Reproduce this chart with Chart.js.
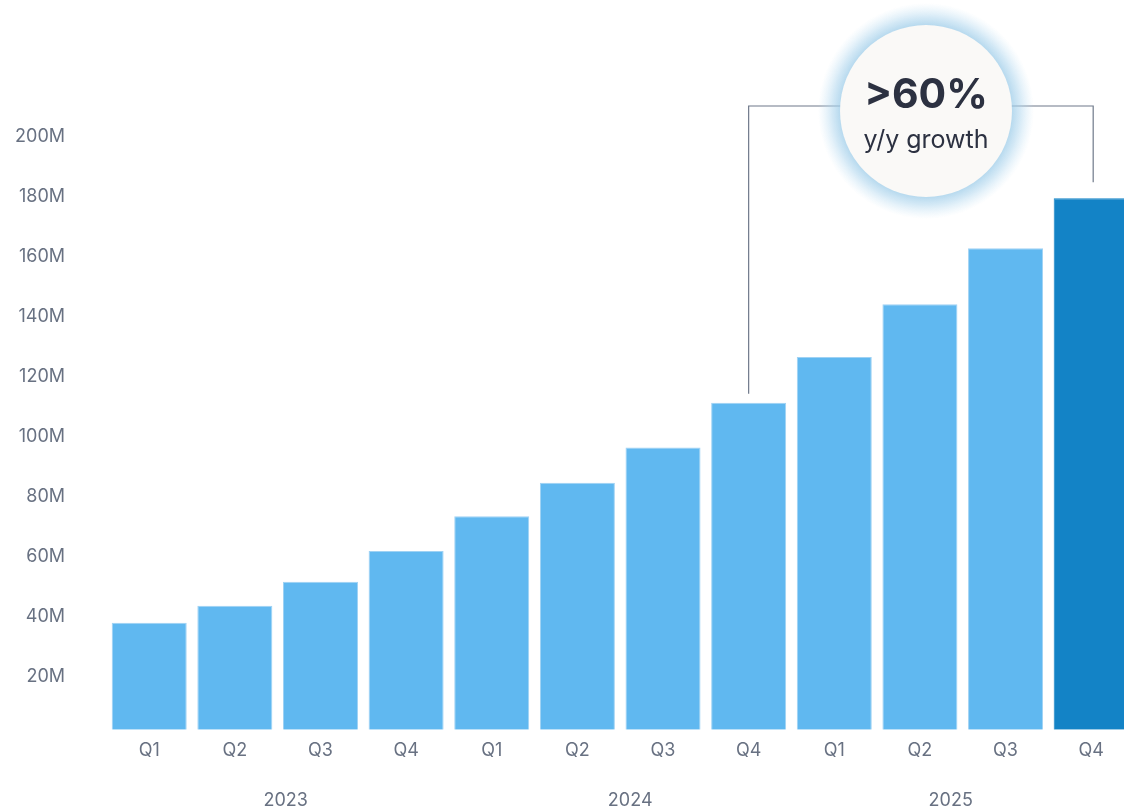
<!DOCTYPE html>
<html>
<head>
<meta charset="utf-8">
<script src="https://cdn.jsdelivr.net/npm/chart.js@4.4.1/dist/chart.umd.min.js"></script>
<style>
  html, body { margin: 0; padding: 0; background: #ffffff; overflow: hidden; }
  canvas { display: block; }
</style>
</head>
<body>
<canvas id="growthChart" width="1134" height="811"></canvas>
<script>
// Données
const quarters = ['Q1', 'Q2', 'Q3', 'Q4', 'Q1', 'Q2', 'Q3', 'Q4', 'Q1', 'Q2', 'Q3', 'Q4'];
const years = ['2023', '2024', '2025'];
const values = [35.7, 41.3, 49.3, 59.6, 71.2, 82.3, 94.1, 109.0, 124.3, 141.9, 160.5, 177.2];
const yTicks = [20, 40, 60, 80, 100, 120, 140, 160, 180, 200];
const badgeMain = '>60%';
const badgeSub = 'y/y growth';

const lightBlue = '#60b8f0';
const darkBlue = '#1383c6';
const labelGrey = '#687182';
const fontFamily = "Inter, 'Open Sans', sans-serif";

// Décalage des années (pas tout à fait centrées dans le visuel d'origine)
const yearShift = [8, 10, -12];

// Années sous les trimestres + crochet + badge de croissance
const growthBadge = {
    id: 'growthBadge',
    afterDatasetsDraw(chart) {
        const ctx = chart.ctx;
        const meta = chart.getDatasetMeta(0);
        const xScale = chart.scales.x;
        const from = meta.data[7];
        const to = meta.data[11];
        const lineY = 106;
        const cx = 926, cy = 111, r = 86;

        ctx.save();
        ctx.fillStyle = labelGrey;
        ctx.font = "18px " + fontFamily;
        ctx.textAlign = 'center';
        ctx.textBaseline = 'middle';
        years.forEach((y, i) => {
            const x0 = xScale.getPixelForValue(i * 4);
            const x1 = xScale.getPixelForValue(i * 4 + 3);
            ctx.fillText(y, (x0 + x1) / 2 + yearShift[i], 801);
        });

        ctx.strokeStyle = '#6f798a';
        ctx.lineWidth = 1.2;
        ctx.beginPath();
        ctx.moveTo(from.x, from.y - 9);
        ctx.lineTo(from.x, lineY);
        ctx.lineTo(to.x + 2, lineY);
        ctx.lineTo(to.x + 2, to.y - 16);
        ctx.stroke();

        // halo bleu
        const glow = ctx.createRadialGradient(cx, cy, r - 4, cx, cy, r + 22);
        glow.addColorStop(0, 'rgba(150, 200, 230, 0.85)');
        glow.addColorStop(0.45, 'rgba(175, 214, 238, 0.55)');
        glow.addColorStop(1, 'rgba(200, 228, 245, 0)');
        ctx.fillStyle = glow;
        ctx.beginPath();
        ctx.arc(cx, cy, r + 22, 0, Math.PI * 2);
        ctx.fill();

        ctx.fillStyle = '#faf9f7';
        ctx.beginPath();
        ctx.arc(cx, cy, r, 0, Math.PI * 2);
        ctx.fill();

        ctx.fillStyle = '#2c3141';
        ctx.font = "bold 41px " + fontFamily;
        ctx.fillText(badgeMain, cx, cy - 15);
        ctx.font = "25px " + fontFamily;
        ctx.fillText(badgeSub, cx, cy + 29);
        ctx.restore();
    }
};

const ctx = document.getElementById('growthChart').getContext('2d');
const chart = new Chart(ctx, {
    type: 'bar',
    data: {
        labels: quarters,
        datasets: [{
            data: values,
            backgroundColor: values.map((v, i) => i === values.length - 1 ? darkBlue : lightBlue),
            borderColor: values.map((v, i) => i === values.length - 1 ? darkBlue : '#9fd2f4'),
            borderWidth: 1,
            barPercentage: 0.876,
            categoryPercentage: 1
        }]
    },
    options: {
        responsive: false,
        animation: false,
        devicePixelRatio: 1,
        layout: { padding: { top: 63, left: 0, right: 0, bottom: 0 } },
        plugins: {
            legend: { display: false },
            tooltip: { enabled: false }
        },
        scales: {
            x: {
                grid: { display: false, drawTicks: false },
                border: { display: false },
                ticks: {
                    color: labelGrey,
                    font: { family: fontFamily, size: 18 },
                    padding: 10,
                    maxRotation: 0
                },
                afterFit(scale) { scale.height = 81.3; }
            },
            y: {
                min: 0,
                max: 222.3,
                grid: { display: false, drawTicks: false },
                border: { display: false },
                afterBuildTicks(scale) {
                    scale.ticks = yTicks.map(v => ({ value: v }));
                },
                ticks: {
                    color: labelGrey,
                    font: { family: fontFamily, size: 18 },
                    padding: 41.4,
                    labelOffset: 7,
                    callback: v => v + 'M'
                },
                afterFit(scale) { scale.width = 106.4; }
            }
        }
    },
    plugins: [growthBadge]
});
</script>
</body>
</html>
